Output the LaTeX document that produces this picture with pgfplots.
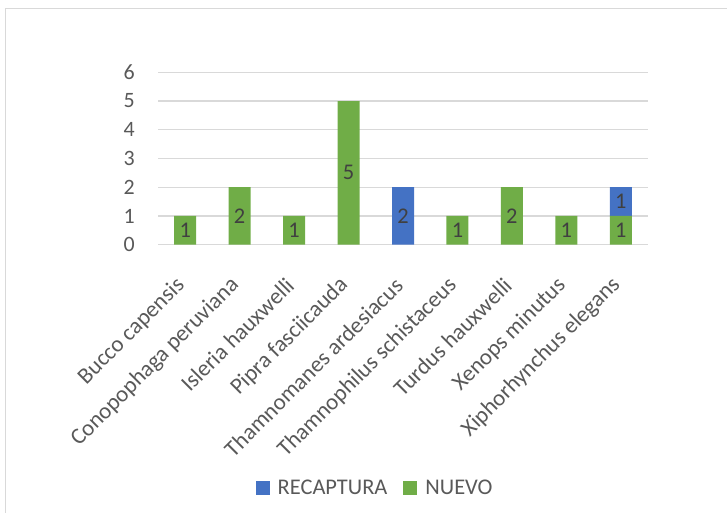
\documentclass[border=0pt]{standalone}
\usepackage{fontspec}
\setmainfont{Carlito}
\usepackage{pgfplots}
\pgfplotsset{compat=1.18}
\definecolor{cblue}{HTML}{4472C4}
\definecolor{cgreen}{HTML}{70AD47}
\definecolor{cgrid}{HTML}{D9D9D9}
\definecolor{ctxt}{HTML}{595959}
\definecolor{clbl}{HTML}{404040}
\begin{document}
\begin{tikzpicture}[x=1bp,y=1bp]
\useasboundingbox (0,0) rectangle (727,-513);
\draw[cgrid, line width=1.5bp] (5.5,-513) -- (5.5,-8.5) -- (727,-8.5);
\begin{axis}[
  at={(158bp,-244.7bp)}, anchor=south west,
  scale only axis, width=490bp, height=172.4bp,
  xmin=-0.5, xmax=8.5, ymin=0, ymax=6,
  ybar stacked, bar width=22bp,
  axis line style={draw=none}, major tick length=0pt,
  ymajorgrids, grid style={cgrid, line width=1.3bp},
  xtick={0,...,8}, ytick={0,...,6},
  xticklabels={Bucco capensis, Conopophaga peruviana, Isleria hauxwelli, Pipra fasciicauda, Thamnomanes ardesiacus, Thamnophilus schistaceus, Turdus hauxwelli, Xenops minutus, Xiphorhynchus elegans},
  /pgf/number format/assume math mode=true,
  tick label style={font=\fontsize{22}{26}\selectfont, text=ctxt},
  yticklabel style={anchor=east, inner sep=0pt, xshift=-23bp},
  xticklabel style={inner sep=0pt, xshift=-4bp, yshift=-37bp, rotate=45, anchor=east, font=\fontsize{23}{27}\selectfont},
]
\addplot[fill=cgreen, draw=none] coordinates {(0,1) (1,2) (2,1) (3,5) (4,0) (5,1) (6,2) (7,1) (8,1)};
\addplot[fill=cblue, draw=none] coordinates {(0,0) (1,0) (2,0) (3,0) (4,2) (5,0) (6,0) (7,0) (8,1)};
\end{axis}
\begin{axis}[
  at={(158bp,-244.7bp)}, anchor=south west,
  scale only axis, width=490bp, height=172.4bp,
  xmin=-0.5, xmax=8.5, ymin=0, ymax=6,
  hide axis,
  legend image code/.code={\fill[#1] (0bp,-7bp) rectangle (14bp,7bp);},
  legend style={at={(0.443,-1.411)}, anchor=center, draw=none, fill=none,
    legend columns=2, font=\fontsize{22.5}{26}\selectfont, text=ctxt,
    inner sep=0pt, column sep=6bp,
    /tikz/every even column/.append style={column sep=14bp}},
]
\addplot[draw=none, forget plot, nodes near coords, point meta=explicit symbolic,
  every node near coord/.append style={anchor=center, inner sep=0pt, font=\fontsize{22.5}{26}\selectfont, text=clbl}]
  coordinates {(0,0.5) [1] (1,1) [2] (2,0.5) [1] (3,2.5) [5] (4,1) [2] (5,0.5) [1] (6,1) [2] (7,0.5) [1] (8,0.5) [1] (8,1.5) [1]};
\addlegendimage{fill=cblue, draw=none}
\addlegendentry{RECAPTURA}
\addlegendimage{fill=cgreen, draw=none}
\addlegendentry{NUEVO}
\end{axis}
\end{tikzpicture}
\end{document}
